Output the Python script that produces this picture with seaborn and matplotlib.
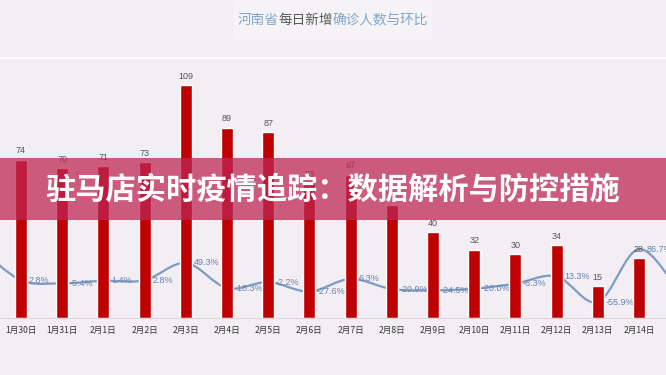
import matplotlib
matplotlib.use("Agg")
import matplotlib.pyplot as plt
import numpy as np
import pandas as pd
import seaborn as sns
from matplotlib.path import Path
from matplotlib.patches import PathPatch, Rectangle
from matplotlib.lines import Line2D

# 数据（1月29日与2月15日只露出一点边）
dates = ["1月29日", "1月30日", "1月31日", "2月1日", "2月2日", "2月3日", "2月4日", "2月5日",
         "2月6日", "2月7日", "2月8日", "2月9日", "2月10日", "2月11日", "2月12日",
         "2月13日", "2月14日", "2月15日"]
cases = [72, 74, 70, 71, 73, 109, 89, 87, 63, 67, 53, 40, 32, 30, 34, 15, 28, 19]
growth = [89.5, 2.8, -5.4, 1.4, 2.8, 49.3, -18.3, -2.2, -27.6, 6.3, -20.9, -24.5,
          -20.0, -6.3, 13.3, -55.9, 86.7, -32.1]

title_parts = ["河南省", "每日新增", "确诊人数与环比"]
banner_text = "驻马店实时疫情追踪：数据解析与防控措施"

df = pd.DataFrame({"date": dates, "cases": cases, "growth": growth})

sns.set_style("white")
plt.rcParams["font.family"] = ["Noto Sans CJK SC", "DejaVu Sans"]

bg = "#f3eef3"
bar_color = "#c00000"
line_color = "#7b9cc0"
pct_color = "#6483b0"
blue_title = "#7ea6c9"
dark_title = "#5a5a5a"

W, H = 666, 375
fig = plt.figure(figsize=(6.66, 3.75), dpi=100)
fig.patch.set_facecolor(bg)

# 标题背后淡淡的底色
fig.add_artist(Rectangle((233 / W, 1 - 40 / H), 199 / W, 40 / H, transform=fig.transFigure,
                         color="#f6f3f6", lw=0, zorder=0))
fig.add_artist(Line2D([0, 1], [1 - 58 / H, 1 - 58 / H], transform=fig.transFigure,
                      color="white", lw=1.6, alpha=0.9, zorder=0))

# 主坐标轴：柱子
ax = fig.add_axes([0, 1 - 318 / H, 1, 260 / H])
sns.barplot(data=df, x="date", y="cases", color=bar_color, saturation=1,
            width=0.29, ax=ax)
ax.set_ylim(0, 121.5)
ax.set_xlim(0.49, 16.655)
ax.bar_label(ax.containers[0], fontsize=6.5, color="#555555", padding=3,
             family="Liberation Sans")
ax.set_xlabel("")
ax.set_ylabel("")
ax.set_yticks([])
ax.tick_params(axis="x", length=0, pad=5.5, labelsize=6.2, labelcolor="#333333")
for s in ["top", "left", "right"]:
    ax.spines[s].set_visible(False)
ax.spines["bottom"].set_color("#d9d9d9")
ax.spines["bottom"].set_linewidth(0.8)

# 次坐标轴：环比曲线（在柱子后面）
ax2 = ax.twinx()
ax2.set_ylim(-99, 602)
ax2.set_yticks([])
for s in ax2.spines.values():
    s.set_visible(False)
ax.set_zorder(2)
ax.patch.set_visible(False)
ax2.set_zorder(1)

xs = np.arange(len(dates), dtype=float)
ys = np.array(growth, dtype=float)
# 平滑曲线：Catmull-Rom 转三次贝塞尔
px = np.concatenate([[xs[0]], xs, [xs[-1]]])
py = np.concatenate([[ys[0]], ys, [ys[-1]]])
verts = [(xs[0], ys[0])]
codes = [Path.MOVETO]
for i in range(1, len(px) - 2):
    c1 = (px[i] + (px[i + 1] - px[i - 1]) / 6, py[i] + (py[i + 1] - py[i - 1]) / 6)
    c2 = (px[i + 1] - (px[i + 2] - px[i]) / 6, py[i + 1] - (py[i + 2] - py[i]) / 6)
    verts += [c1, c2, (px[i + 1], py[i + 1])]
    codes += [Path.CURVE4] * 3
ax2.add_patch(PathPatch(Path(verts, codes), fill=False, edgecolor=line_color, lw=1.6))

for x, v in zip(xs, growth):
    ax2.annotate(f"{v:.1f}%", (x, v), xytext=(5.5, 0), textcoords="offset points",
                 ha="left", va="center", fontsize=6.5, color=pct_color,
                 family="Liberation Sans")

# 标题（分段着色）
title_colors = [blue_title, dark_title, blue_title]
fs = 9.8
offset = -len("".join(title_parts)) * fs / 2
for part, col in zip(title_parts, title_colors):
    fig.text(0.5, 1 - 20 / H, part, fontsize=fs, color=col, ha="left", va="center",
             transform=fig.transFigure + matplotlib.transforms.ScaledTranslation(
                 offset / 72, 0, fig.dpi_scale_trans))
    offset += len(part) * fs

# 横幅
fig.add_artist(Rectangle((0, 1 - 220 / H), 1, 62 / H, transform=fig.transFigure,
                         color=(0.74, 0.15, 0.33), alpha=0.74, lw=0, zorder=10))
fig.text(0.5, 1 - 190 / H, banner_text, fontsize=21.8, fontweight="bold", color="white",
         ha="center", va="center", zorder=11)

fig.savefig("out.png", dpi=100, facecolor=bg)
